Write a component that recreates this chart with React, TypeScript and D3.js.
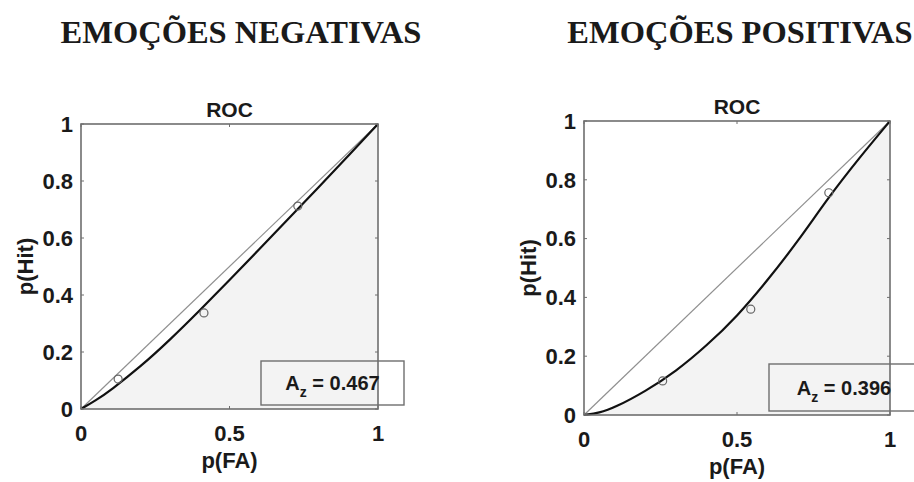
import React from 'react';
import * as d3 from 'd3';

// points
const negFA = [0.125, 0.414, 0.73];
const negHit = [0.105, 0.337, 0.712];
const negCurveX = [0, 0.05, 0.1, 0.2, 0.3, 0.4, 0.5, 0.6, 0.7, 0.8, 0.9, 1];
const negCurveY = [0, 0.03, 0.066, 0.148, 0.243, 0.346, 0.452, 0.56, 0.67, 0.778, 0.888, 1];

const posFA = [0.257, 0.545, 0.8];
const posHit = [0.116, 0.36, 0.756];
const posCurveX = [0, 0.05, 0.1, 0.2, 0.3, 0.4, 0.5, 0.6, 0.7, 0.8, 0.9, 1];
const posCurveY = [0, 0.007, 0.025, 0.08, 0.148, 0.235, 0.335, 0.458, 0.592, 0.742, 0.875, 1];

const xTicks = [0, 0.5, 1];
const yTicks = [0, 0.2, 0.4, 0.6, 0.8, 1];
const titles = ['EMOÇÕES NEGATIVAS', 'EMOÇÕES POSITIVAS'];
const azValues = ['0.467', '0.396'];

const tickFont = 'Arial, "Liberation Sans", sans-serif';

const Panel = props => {
  const { left, top, w, h, fa, hit, cx, cy, az, box } = props;
  const x = d3.scaleLinear().domain([0, 1]).range([left, left + w]);
  const y = d3.scaleLinear().domain([0, 1]).range([top + h, top]);
  const pts = cx.map((v, i) => [v, cy[i]]);
  const line = d3.line().x(d => x(d[0])).y(d => y(d[1])).curve(d3.curveBasis);
  const area = d3
    .area()
    .x(d => x(d[0]))
    .y0(y(0))
    .y1(d => y(d[1]))
    .curve(d3.curveBasis);

  return (
    <g>
      <rect x={left} y={top} width={w} height={h} fill="#fff" />
      <path d={area(pts)} fill="#f3f3f3" />
      {/* chance line */}
      <line x1={x(0)} y1={y(0)} x2={x(1)} y2={y(1)} stroke="#909090" strokeWidth={1.2} />
      <path d={line(pts)} fill="none" stroke="#111" strokeWidth={2.2} />
      {fa.map((v, i) => (
        <circle key={i} cx={x(v)} cy={y(hit[i])} r={4} fill="none" stroke="#666" strokeWidth={1.2} />
      ))}
      <rect x={left} y={top} width={w} height={h} fill="none" stroke="#6e6e6e" strokeWidth={1.6} />
      {/* inner ticks */}
      {xTicks.map(t => (
        <g key={'xt' + t}>
          <line x1={x(t)} x2={x(t)} y1={y(0)} y2={y(0) - 3} stroke="#6e6e6e" />
          <line x1={x(t)} x2={x(t)} y1={y(1)} y2={y(1) + 3} stroke="#6e6e6e" />
        </g>
      ))}
      {yTicks.map(t => (
        <g key={'yt' + t}>
          <line x1={x(0)} x2={x(0) + 3} y1={y(t)} y2={y(t)} stroke="#6e6e6e" />
          <line x1={x(1)} x2={x(1) - 3} y1={y(t)} y2={y(t)} stroke="#6e6e6e" />
        </g>
      ))}
      <g fontFamily={tickFont} fontWeight="bold" fontSize={22} fill="#1a1a1a">
        {yTicks.map(t => (
          <text key={'yl' + t} x={x(0) - 8} y={y(t)} dy="0.35em" textAnchor="end">
            {d3.format('~g')(t)}
          </text>
        ))}
        {xTicks.map(t => (
          <text key={'xl' + t} x={x(t)} y={y(0) + 24} dy="0.35em" textAnchor="middle">
            {d3.format('~g')(t)}
          </text>
        ))}
        <text x={x(0.5)} y={y(0) + 51} dy="0.35em" textAnchor="middle">p(FA)</text>
        <text
          transform={`translate(${left - 56},${y(0.5)}) rotate(-90)`}
          dy="0.35em"
          textAnchor="middle"
        >
          p(Hit)
        </text>
        <text x={x(0.5)} y={top - 7} textAnchor="middle" fontSize={21}>ROC</text>
      </g>
      <rect
        x={box[0]}
        y={box[1]}
        width={box[2]}
        height={box[3]}
        fill="none"
        stroke="#6e6e6e"
        strokeWidth={1.4}
      />
      <text
        x={box[0] + box[2] / 2}
        y={box[1] + box[3] / 2}
        dy="0.35em"
        textAnchor="middle"
        fontFamily={tickFont}
        fontWeight="bold"
        fontSize={20}
        fill="#1a1a1a"
      >
        A<tspan fontSize={14} dy="7">z</tspan>
        <tspan dy="-7"> = {az}</tspan>
      </text>
    </g>
  );
};

export default function App() {
  return (
    <svg
      width={914}
      height={482}
      style={{ position: 'absolute', left: 0, top: 0, background: '#fff' }}
    >
      <rect width={914} height={482} fill="#fff" />
      <g fontFamily='"Liberation Serif", "Times New Roman", serif' fontWeight="bold" fontSize={32.5} fill="#1a1a1a">
        <text x={241} y={43} textAnchor="middle">{titles[0]}</text>
        <text x={740} y={43} textAnchor="middle">{titles[1]}</text>
      </g>
      <Panel
        left={81}
        top={124}
        w={297}
        h={285}
        fa={negFA}
        hit={negHit}
        cx={negCurveX}
        cy={negCurveY}
        az={azValues[0]}
        box={[261, 361, 143, 44]}
      />
      <Panel
        left={584}
        top={121}
        w={306}
        h={294}
        fa={posFA}
        hit={posHit}
        cx={posCurveX}
        cy={posCurveY}
        az={azValues[1]}
        box={[769, 364, 150, 47]}
      />
    </svg>
  );
}
